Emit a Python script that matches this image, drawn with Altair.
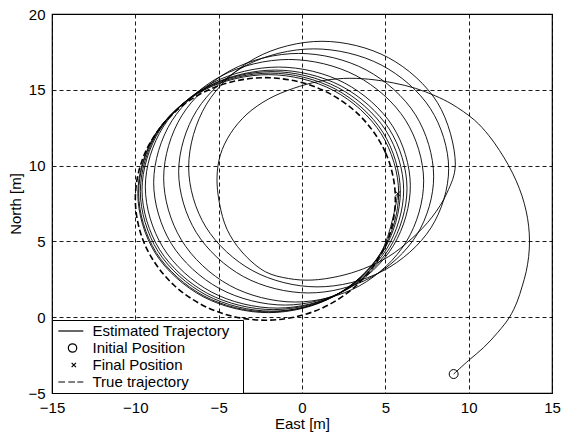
import altair as alt
import pandas as pd

# Estimated trajectory (in order along the path)
est_x = [9.1, 10.0, 10.9, 11.75, 12.45, 12.9, 13.2, 13.45, 13.6, 13.65, 13.6, 13.45, 13.2, 12.85, 12.4,
         11.85, 11.2, 10.35, 9.0, 8.0, 6.8, 5.5, 4.0, 2.5, 1.0, -0.5, -2.0, -3.3, -4.3, -4.9, -5.1,
         -4.95, -4.5, -3.6, -2.2, -0.8, 0.6, 2.2, 3.7, 5.2, 6.6, 7.8, 8.7,
         9.2, 8.13, 5.2, 1.2, -2.8, -5.73, -6.8, -5.77, -2.95, 0.9, 4.85, 7.74,
         8.8, 7.71, 4.75, 0.7, -3.35, -6.31, -7.4, -6.35, -3.5, 0.4, 4.15, 6.9,
         7.9, 6.81, 3.85, -0.2, -4.25, -7.21, -8.3, -7.24, -4.35, -0.4, 3.45, 6.27,
         7.3, 6.21, 3.25, -0.8, -4.85, -7.81, -8.9, -7.84, -4.95, -1.0, 2.75, 5.5,
         6.5, 5.44, 2.55, -1.4, -5.4, -8.33, -9.4, -8.34, -5.45, -1.5, 2.4, 5.25,
         6.3, 5.24, 2.35, -1.6, -5.6, -8.53, -9.6, -8.54, -5.65, -1.7, 2.2, 5.05,
         6.1, 5.04, 2.15, -1.8, -5.75, -8.64, -9.7, -8.64, -5.75, -1.8, 2.05, 4.87,
         5.9, 4.85, 2.0, -1.9, -5.85, -8.74, -9.8, -8.75, -5.88, -1.95, 1.93, 4.76,
         5.8, 4.75, 1.9, -2.0, -5.93, -8.8, -9.85, -8.8, -5.93, -2.0, 1.88, 4.71,
         5.75]
est_y = [-3.75, -2.85, -2.0, -1.0, 0.0, 1.0, 2.0, 3.0, 4.0, 5.0, 6.0, 7.0, 8.0, 9.0, 10.0,
         11.0, 12.0, 13.0, 14.05, 14.6, 15.1, 15.45, 15.7, 15.75, 15.55, 15.1, 14.4, 13.4, 12.1, 10.7, 9.2,
         7.5, 5.8, 4.3, 3.0, 2.55, 2.45, 2.7, 3.2, 4.0, 5.2, 6.6, 8.2,
         10.1, 14.15, 17.11, 18.2, 17.09, 14.05, 9.9, 5.95, 3.06, 2.0, 3.05, 5.9,
         9.8, 13.75, 16.64, 17.7, 16.61, 13.65, 9.6, 5.6, 2.67, 1.6, 2.63, 5.45,
         9.3, 13.35, 16.31, 17.4, 16.3, 13.3, 9.2, 5.1, 2.1, 1.0, 2.07, 5.0,
         9.0, 13.0, 15.93, 17.0, 15.91, 12.95, 8.9, 4.85, 1.89, 0.8, 1.86, 4.75,
         8.7, 12.6, 15.45, 16.5, 15.44, 12.55, 8.6, 4.6, 1.67, 0.6, 1.66, 4.55,
         8.5, 12.4, 15.25, 16.3, 15.24, 12.35, 8.4, 4.45, 1.56, 0.5, 1.56, 4.45,
         8.4, 12.3, 15.15, 16.2, 15.14, 12.25, 8.3, 4.35, 1.46, 0.4, 1.46, 4.35,
         8.3, 12.2, 15.05, 16.1, 15.04, 12.15, 8.2, 4.27, 1.4, 0.35, 1.4, 4.27,
         8.2, 12.1, 14.95, 16.0, 14.95, 12.08, 8.15, 4.22, 1.35, 0.3, 1.35, 4.22,
         8.15]

# True trajectory (closed loop)
true_x = [5.6, 5.01, 3.31, 0.79, -2.2, -5.19, -7.71, -9.41, -10.0, -9.41, -7.71, -5.19, -2.2, 0.79, 3.31, 5.01]
true_y = [7.8, 10.86, 13.46, 15.19, 15.8, 15.19, 13.46, 10.86, 7.8, 4.74, 2.14, 0.41, -0.2, 0.41, 2.14, 4.74]

initial_x, initial_y = [9.1], [-3.75]
final_x, final_y = [5.75], [8.15]

legend_labels = ["Estimated Trajectory", "Initial Position", "Final Position", "True trajectory"]
x_ticks = [-15, -10, -5, 0, 5, 10, 15]
y_ticks = [-5, 0, 5, 10, 15, 20]

FONT = "Liberation Sans"

est = pd.DataFrame({"x": est_x, "y": est_y, "i": list(range(len(est_x)))})
tru = pd.DataFrame({"x": true_x, "y": true_y, "i": list(range(len(true_x)))})
ini = pd.DataFrame({"x": initial_x, "y": initial_y})
fin = pd.DataFrame({"x": final_x, "y": final_y})
# legend-only rows, placed outside the view and clipped away
leg = pd.DataFrame({"x": [-100.0] * 4, "y": [-100.0] * 4, "kind": legend_labels})

xs = alt.Scale(domain=[-15, 15], nice=False, zero=False)
ys = alt.Scale(domain=[-5, 20], nice=False, zero=False)

xax = alt.Axis(values=x_ticks, title="East [m]", grid=True, labelFlush=False, ticks=False,
               domain=False, labelPadding=7, titlePadding=1)
yax = alt.Axis(values=y_ticks, title="North [m]", grid=True, labelFlush=False, ticks=False,
               domain=False, labelPadding=7, titlePadding=4)

line_est = alt.Chart(est).mark_line(interpolate="catmull-rom", color="black", strokeWidth=0.9).encode(
    x=alt.X("x:Q", scale=xs, axis=xax),
    y=alt.Y("y:Q", scale=ys, axis=yax),
    order="i:Q",
)

line_true = alt.Chart(tru).mark_line(interpolate="cardinal-closed", tension=0, color="black",
                                      strokeWidth=1.6, strokeDash=[6, 3]).encode(
    x=alt.X("x:Q", scale=xs),
    y=alt.Y("y:Q", scale=ys),
    order="i:Q",
)

ini_pt = alt.Chart(ini).mark_point(shape="circle", filled=False, size=80, color="black",
                                   strokeWidth=1, opacity=1).encode(
    x=alt.X("x:Q", scale=xs), y=alt.Y("y:Q", scale=ys))

fin_pt = alt.Chart(fin).mark_point(shape="M-1,-1L1,1M-1,1L1,-1", filled=False, size=25,
                                   color="black", strokeWidth=1, opacity=1).encode(
    x=alt.X("x:Q", scale=xs), y=alt.Y("y:Q", scale=ys))

legend_paths = [
    "M-0.62,0L2.71,0",
    "M0.71,0A0.56,0.56,0,1,1,1.83,0A0.56,0.56,0,1,1,0.71,0Z",
    "M1.15,-0.29L1.73,0.29M1.15,0.29L1.73,-0.29",
    "M-0.62,0L0.27,0M0.71,0L1.6,0M1.91,0L2.71,0",
]

leg_layer = alt.Chart(leg).mark_point(filled=False, size=225, color="black", strokeWidth=1.2,
                                      opacity=1, clip=True).encode(
    x=alt.X("x:Q", scale=xs),
    y=alt.Y("y:Q", scale=ys),
    shape=alt.Shape("kind:N", scale=alt.Scale(domain=legend_labels, range=legend_paths),
                    legend=alt.Legend(title=None, orient="bottom-left", offset=0,
                                      strokeColor="black", fillColor="white", padding=2.5,
                                      symbolSize=225, symbolStrokeWidth=1.2,
                                      symbolStrokeColor="black", symbolFillColor="transparent",
                                      labelFont=FONT, labelFontSize=15, labelColor="black",
                                      rowPadding=0, labelOffset=21, labelLimit=400,
                                      labelExpr="datum.label + '\u2800'")),
)

chart = alt.layer(line_est, line_true, ini_pt, fin_pt, leg_layer).properties(
    width=500, height=379,
    background="white",
    autosize=alt.AutoSizeParams(type="none"),
    padding={"left": 52, "top": 14, "right": 19, "bottom": 41},
).configure_view(
    stroke="black", strokeWidth=1.2
).configure_axis(
    labelFont=FONT, labelFontSize=15, labelColor="black",
    titleFont=FONT, titleFontSize=15, titleFontWeight="normal", titleColor="black",
    gridColor="black", gridDash=[4, 3], gridWidth=1, gridOpacity=0.9,
)

chart.save("out.html", embed_options={"renderer": "svg", "actions": False})
